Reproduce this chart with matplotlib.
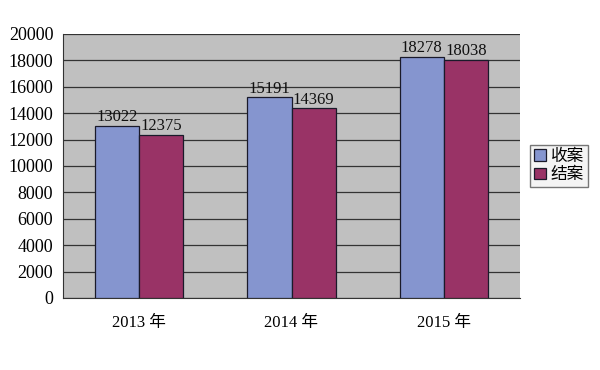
import matplotlib.pyplot as plt
import numpy as np

plt.rcParams['font.family'] = ['Liberation Serif', 'Noto Sans CJK SC']

years = ['2013 年', '2014 年', '2015 年']
received = [13022, 15191, 18278]
closed = [12375, 14369, 18038]
labels = ['收案', '结案']

fig = plt.figure(figsize=(6, 3.7), dpi=100)
ax = fig.add_axes([63/600, 1-298/370, 457/600, 264/370])
ax.set_facecolor('#c0c0c0')

x = np.arange(len(years))
w = 0.29
b1 = ax.bar(x - w/2, received, w, color='#8595cf', edgecolor='#1a1a2a', linewidth=0.9, label=labels[0], zorder=3)
b2 = ax.bar(x + w/2, closed, w, color='#993366', edgecolor='#1a1a2a', linewidth=0.9, label=labels[1], zorder=3)
for bars in (b1, b2):
    for r in bars:
        ax.text(r.get_x() + r.get_width()/2, r.get_height() + 60, str(int(r.get_height())),
                ha='center', va='bottom', fontsize=12, color='#111111', zorder=4)

ax.set_xlim(-0.5, 2.5)
ax.set_ylim(0, 20000)
ax.set_yticks(range(0, 20001, 2000))
ax.yaxis.grid(True, color='#333333', linewidth=0.9, zorder=1)
ax.set_xticks(x)
ax.set_xticklabels(years, fontsize=12)
ax.tick_params(axis='y', labelsize=13, length=0, pad=7)
ax.tick_params(axis='x', length=0, pad=12)
for s in ['top', 'right']:
    ax.spines[s].set_visible(False)
ax.spines['left'].set_color('#333333')
ax.spines['bottom'].set_color('#333333')

leg = fig.legend(handles=[b1, b2], loc='center left', bbox_to_anchor=(530/600, 1-166/370),
                 fontsize=12, frameon=True, fancybox=False, edgecolor='#555555',
                 handlelength=0.7, handleheight=0.7, handletextpad=0.3, borderpad=0.25,
                 labelspacing=0.15, borderaxespad=0)
leg.get_frame().set_facecolor('#f2f2f2')

fig.savefig('out.png', dpi=100)
